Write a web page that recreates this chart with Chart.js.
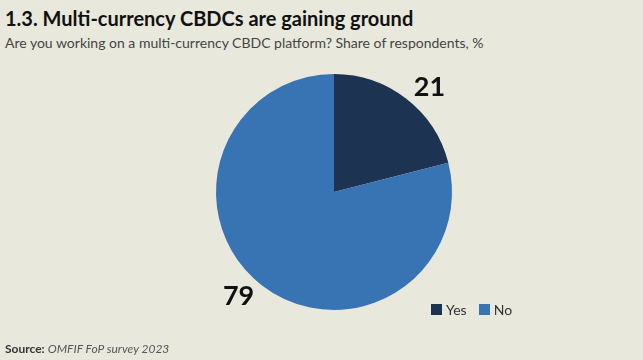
<!DOCTYPE html>
<html>
<head>
<meta charset="utf-8">
<script src="https://cdn.jsdelivr.net/npm/chart.js@4"></script>
<style>
  body { margin: 0; background: #e8e9dc; font-family: Lato, "Open Sans", sans-serif; }
  #wrap { position: relative; width: 643px; height: 360px; overflow: hidden; }
  #title { position: absolute; left: 5px; top: 6px; font-size: 20px; font-weight: 700; color: #111; white-space: nowrap; }
  #subtitle { position: absolute; left: 5px; top: 34px; font-size: 14px; color: #444; white-space: nowrap; }
  #source { position: absolute; left: 5px; top: 341px; font-size: 12px; color: #333; white-space: nowrap; }
  #source b { font-weight: 700; }
  #source i { color: #555; }
  #legend { position: absolute; left: 431px; top: 301px; font-size: 14px; color: #333; display: flex; }
  #legend span.item { display: flex; align-items: center; margin-right: 12px; }
  #legend span.box { width: 11px; height: 11px; margin-right: 4px; display: inline-block; }
  canvas { position: absolute; left: 0; top: 0; }
</style>
</head>
<body>
<div id="wrap">
  <div id="title">1.3. Multi-currency CBDCs are gaining ground</div>
  <div id="subtitle">Are you working on a multi-currency CBDC platform? Share of respondents, %</div>
  <canvas id="chart" width="643" height="360"></canvas>
  <div id="legend"></div>
  <div id="source"><b>Source:</b> <i>OMFIF FoP survey 2023</i></div>
</div>
<script>
const labels = ['Yes', 'No'];
const values = [21, 79];
const colors = ['#1d3352', '#3873b4'];

const legendEl = document.getElementById('legend');
labels.forEach((l, i) => {
    const item = document.createElement('span');
    item.className = 'item';
    item.innerHTML = `<span class="box" style="background:${colors[i]}"></span>${l}`;
    legendEl.appendChild(item);
});

// draws the big numbers outside the slices
const outsideLabels = {
    id: 'outsideLabels',
    afterDatasetsDraw(chart) {
        const ctx = chart.ctx;
        const meta = chart.getDatasetMeta(0);
        ctx.save();
        ctx.font = 'bold 27px Lato, sans-serif';
        ctx.fillStyle = '#111';
        ctx.textAlign = 'center';
        ctx.textBaseline = 'middle';
        meta.data.forEach((arc, i) => {
            const mid = (arc.startAngle + arc.endAngle) / 2 + 0.08;
            const r = arc.outerRadius * 1.2;
            ctx.fillText(values[i], arc.x + Math.cos(mid) * r, arc.y + Math.sin(mid) * r);
        });
        ctx.restore();
    }
};

const ctx = document.getElementById('chart').getContext('2d');
new Chart(ctx, {
    type: 'pie',
    data: {
        labels: labels,
        datasets: [{
            data: values,
            backgroundColor: colors,
            borderWidth: 0
        }]
    },
    options: {
        responsive: false,
        animation: false,
        layout: { padding: { top: 74, bottom: 50, left: 216, right: 191 } },
        plugins: {
            legend: { display: false },
            tooltip: { enabled: false }
        }
    },
    plugins: [outsideLabels]
});
</script>
</body>
</html>
